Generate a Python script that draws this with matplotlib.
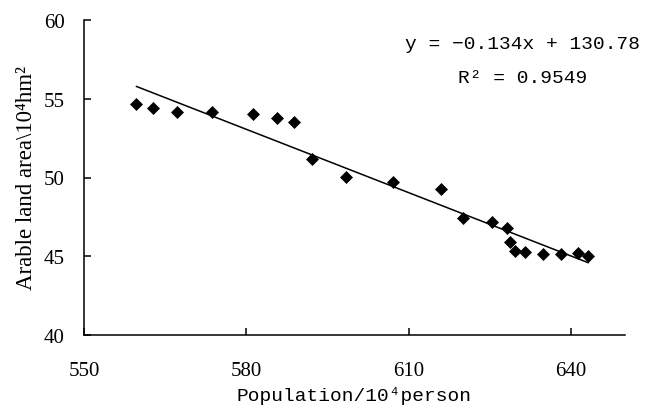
import numpy as np
import matplotlib
matplotlib.use("Agg")
import matplotlib.pyplot as plt

# 人口 (10^4 person) 与耕地面积 (10^4 hm^2)
population = [559.7, 562.7, 567.1, 573.7, 581.3, 585.7, 588.9, 592.2, 598.4,
              607.2, 615.9, 620.0, 625.4, 628.2, 628.7, 629.7, 631.5, 634.9,
              638.1, 641.4, 643.2]
arable = [54.67, 54.39, 54.18, 54.18, 54.03, 53.78, 53.54, 51.17, 50.05,
          49.70, 49.27, 47.41, 47.19, 46.77, 45.92, 45.35, 45.25, 45.14,
          45.14, 45.19, 45.03]

# 线性趋势线系数（图中给出）
slope = -0.134
intercept = 130.78
r2 = 0.9549

xticks = [550, 580, 610, 640]
yticks = [40, 45, 50, 55, 60]

serif = ['Liberation Serif', 'DejaVu Serif']
mono = ['Liberation Mono', 'DejaVu Sans Mono']

fig = plt.figure(figsize=(6.57, 4.10), dpi=100)
ax = fig.add_axes([84 / 657, 1 - 336 / 410, 541 / 657, 315 / 410])

ax.plot(population, arable, 'kD', markersize=6.5, markeredgewidth=0.5)
xl = np.array([min(population), max(population)])
ax.plot(xl, slope * xl + intercept, 'k-', lw=1.1)

ax.set_xlim(550, 650)
ax.set_ylim(40, 60)
ax.set_xticks(xticks)
ax.set_yticks(yticks)
ax.spines['top'].set_visible(False)
ax.spines['right'].set_visible(False)
for s in ('left', 'bottom'):
    ax.spines[s].set_linewidth(1.1)
ax.tick_params(direction='in', length=5, width=1.1)
ax.tick_params(axis='x', pad=19)
ax.tick_params(axis='y', pad=14)
for lab in ax.get_xticklabels() + ax.get_yticklabels():
    lab.set_family(serif)
    lab.set_fontsize(15)

ax.set_xlabel('Population/10⁴person', family=mono, fontsize=14, labelpad=4)
ax.set_ylabel('Arable land area\\10⁴hm²', family=serif, fontsize=16.5, labelpad=5)

ax.text(0.81, 0.924, f'y = {slope}x + {intercept}'.replace('-', '−'),
        transform=ax.transAxes, family=mono, fontsize=14, ha='center', va='center')
ax.text(0.81, 0.819, f'R² = {r2}', transform=ax.transAxes, family=mono,
        fontsize=14, ha='center', va='center')

fig.savefig('out.png', dpi=100)
